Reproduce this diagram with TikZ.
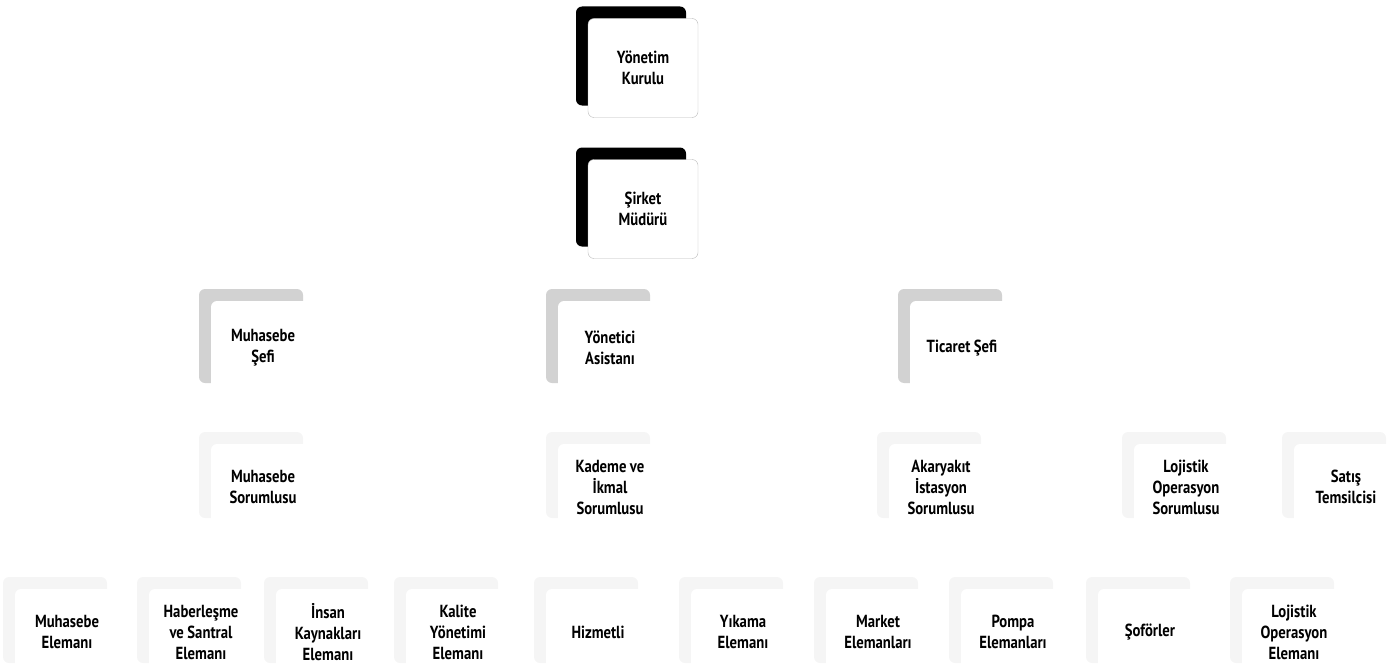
\documentclass[tikz,border=0pt]{standalone}
\usepackage{fontspec}
\setmainfont{PT Sans}[FakeStretch=0.84]
\usetikzlibrary{shadows}

\tikzset{
  unit/.style={fill=white, rounded corners=6pt, inner sep=0pt,
    minimum width=104pt, minimum height=86pt, text width=100pt, align=center,
    font=\fontsize{17.5}{21}\selectfont\bfseries,
    execute at begin node={\spaceskip=.2em\relax}},
  topunit/.style={unit, draw=gray!55, thin, minimum width=110pt, minimum height=99pt,
    general shadow={fill=black, shadow xshift=-12pt, shadow yshift=12pt}},
  midunit/.style={unit, minimum height=94pt,
    general shadow={fill=gray!35, shadow xshift=-12pt, shadow yshift=12pt}},
  lowunit/.style={unit,
    general shadow={fill=gray!8, shadow xshift=-12pt, shadow yshift=12pt}},
}

\begin{document}
\begin{tikzpicture}[x=1pt, y=-1pt]
      \useasboundingbox (0,0) rectangle (1392,669);

      \node[topunit, at={(643,68)}] (kurul) {Yönetim\\Kurulu};
      \node[topunit, at={(643,209)}] (mudur) {Şirket\\Müdürü};

      \node[midunit, at={(263,348)}] (msefi) {Muhasebe\\Şefi};
      \node[midunit, at={(610,348)}] (asist) {Yönetici\\Asistanı};
      \node[midunit, at={(962,348)}] (tsefi) {Ticaret Şefi};

      \node[lowunit, at={(263,487)}] (msor) {Muhasebe\\Sorumlusu};
      \node[lowunit, at={(610,487)}] (kade) {Kademe ve\\İkmal\\Sorumlusu};
      \node[lowunit, at={(941,487)}] (akar) {Akaryakıt\\İstasyon\\Sorumlusu};
      \node[lowunit, at={(1186,487)}] (lsor) {Lojistik\\Operasyon\\Sorumlusu};
      \node[lowunit, at={(1346,487)}] (satis) {Satış\\Temsilcisi};

      \node[lowunit, at={(67,632)}] (mele) {Muhasebe\\Elemanı};
      \node[lowunit, at={(201,632)}] (habr) {Haberleşme\\ve Santral\\Elemanı};
      \node[lowunit, at={(328,632)}] (insan) {İnsan\\Kaynakları\\Elemanı};
      \node[lowunit, at={(458,632)}] (kalite) {Kalite\\Yönetimi\\Elemanı};
      \node[lowunit, at={(598,632)}] (hizm) {Hizmetli};
      \node[lowunit, at={(743,632)}] (yika) {Yıkama\\Elemanı};
      \node[lowunit, at={(878,632)}] (market) {Market\\Elemanları};
      \node[lowunit, at={(1013,632)}] (pompa) {Pompa\\Elemanları};
      \node[lowunit, at={(1150,632)}] (sofor) {Şoförler};
      \node[lowunit, at={(1294,632)}] (lele) {Lojistik\\Operasyon\\Elemanı};
    \end{tikzpicture}
\end{document}
